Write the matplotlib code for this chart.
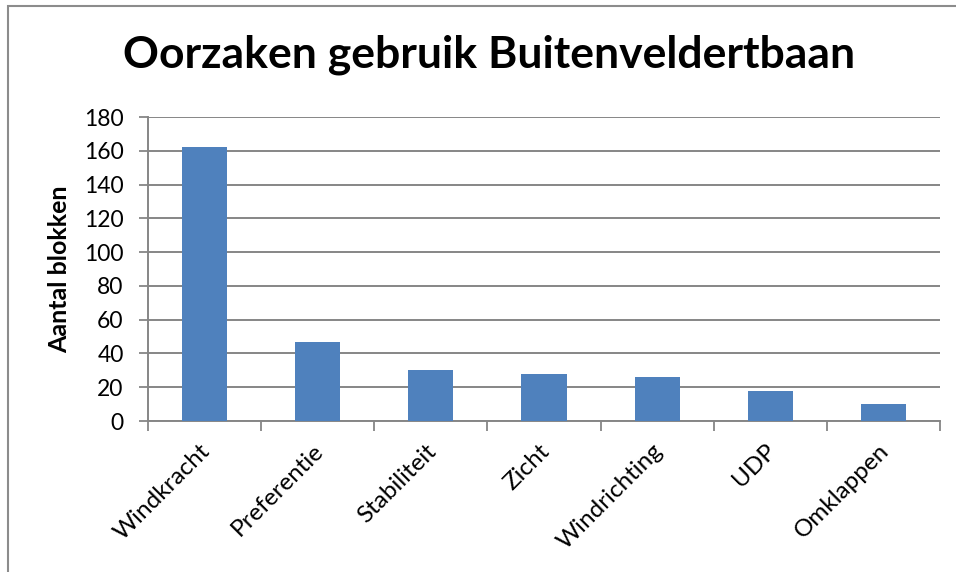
import matplotlib.pyplot as plt
from matplotlib.patches import Rectangle
from matplotlib.transforms import ScaledTranslation
import numpy as np

categories = ['Windkracht', 'Preferentie', 'Stabiliteit', 'Zicht',
              'Windrichting', 'UDP', 'Omklappen']
values = [162, 47, 30, 28, 26, 18, 10]
y_ticks = [0, 20, 40, 60, 80, 100, 120, 140, 160, 180]

plt.rcParams['font.family'] = ['Lato', 'DejaVu Sans']
grey = '#868686'

fig = plt.figure(figsize=(9.56, 5.72), dpi=100)
# outer chart frame (cut off at right and bottom like the screenshot)
fig.patches.append(Rectangle((8 / 956, -0.1), 1.2, 1.1 - 6 / 572,
                             transform=fig.transFigure, fill=False,
                             edgecolor='#8c8c8c', linewidth=1.5))

ax = fig.add_axes([148 / 956, 1 - 421 / 572, 792 / 956, 304 / 572])
x = np.arange(len(categories))
ax.bar(x, values, width=0.4, color='#4F81BD', zorder=3)

ax.set_xlim(-0.5, len(categories) - 0.5)
ax.set_ylim(0, 180)
ax.set_yticks(y_ticks)
ax.yaxis.grid(True, color=grey, linewidth=1.4, zorder=0)
ax.tick_params(axis='y', labelsize=16.5, length=6.5, width=1.3, color=grey, pad=11)

ax.set_xticks(x)
ax.set_xticklabels(categories, rotation=45, ha='right', va='top',
                   rotation_mode='anchor', fontsize=17.5)
ax.tick_params(axis='x', length=0, pad=14)
# nudge the rotated labels a little to the left, like Excel places them
shift = ScaledTranslation(-5 / 100, 0, fig.dpi_scale_trans)
for lbl in ax.get_xticklabels():
    lbl.set_transform(lbl.get_transform() + shift)
# category boundary ticks
ax.set_xticks(np.arange(len(categories) + 1) - 0.5, minor=True)
ax.tick_params(axis='x', which='minor', length=7, width=1.3, color=grey)

for s in ['top', 'right']:
    ax.spines[s].set_visible(False)
for s in ['left', 'bottom']:
    ax.spines[s].set_color(grey)
    ax.spines[s].set_linewidth(1.4)

ax.set_ylabel('Aantal blokken', fontsize=18, fontweight='bold', labelpad=9)
fig.text(489 / 956, 1 - 55 / 572, 'Oorzaken gebruik Buitenveldertbaan',
         ha='center', va='center', fontsize=32, fontweight='bold')

plt.savefig('out.png', dpi=100)
